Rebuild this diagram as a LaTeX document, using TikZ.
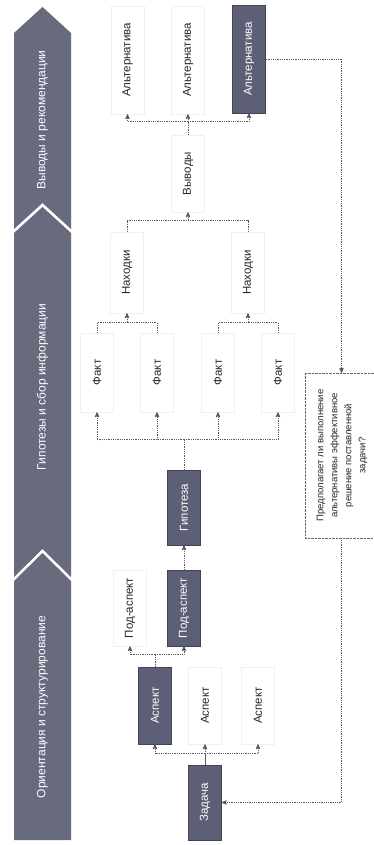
\documentclass[tikz,border=0pt]{standalone}
\usepackage{fontspec}
\setmainfont{Liberation Sans}
\usetikzlibrary{arrows}

\definecolor{slate}{RGB}{92,95,118}
\definecolor{band}{RGB}{104,106,126}

\begin{document}
\begin{tikzpicture}[x=1pt,y=-1pt,
	box/.style={draw=gray!12,fill=white,text=black!85,minimum width=33pt,minimum height=77pt,inner sep=0pt,font=\fontsize{11.5}{13}\selectfont},
	dark/.style={box,draw=slate!70!black,fill=slate,text=white},
	phase/.style={text=white,font=\fontsize{12}{14}\selectfont},
	line/.style={densely dotted,line width=0.8pt,draw=black!65},
	to/.style={line,->,>=stealth'}]

\clip (0,0) rectangle (374,845);
\fill[white] (0,0) rectangle (374,845);

% phases
\fill[band] (14,229) -- (14,33) -- (42.5,7) -- (71,33) -- (71,229) -- (42.5,203) -- cycle;
\fill[band] (14,577) -- (14,233) -- (42.5,207) -- (71,233) -- (71,577) -- (42.5,549) -- cycle;
\fill[band] (14,840) -- (14,581) -- (42.5,553) -- (71,581) -- (71,840) -- cycle;
\node[phase] (p1) at (42.5,120) {\rotatebox{90}{Выводы и рекомендации}};
\node[phase] (p2) at (42.5,387) {\rotatebox{90}{Гипотезы и сбор информации}};
\node[phase] (p3) at (42.5,707) {\rotatebox{90}{Ориентация и структурирование}};

% nodes
\node[dark,minimum height=75pt] (z) at (205,802.5) {\rotatebox{90}{Задача}};
\node[dark] (a1) at (155,705.5) {\rotatebox{90}{Аспект}};
\node[box] (a2) at (205,705.5) {\rotatebox{90}{Аспект}};
\node[box] (a3) at (258,705.5) {\rotatebox{90}{Аспект}};
\node[box,minimum height=76pt] (s1) at (130,608) {\rotatebox{90}{Под-аспект}};
\node[dark,minimum height=76pt] (s2) at (184,608) {\rotatebox{90}{Под-аспект}};
\node[dark,minimum height=75pt] (h) at (184,507.5) {\rotatebox{90}{Гипотеза}};
\node[box,minimum height=79pt] (f1) at (97,372.5) {\rotatebox{90}{Факт}};
\node[box,minimum height=79pt] (f2) at (157,372.5) {\rotatebox{90}{Факт}};
\node[box,minimum height=79pt] (f3) at (218,372.5) {\rotatebox{90}{Факт}};
\node[box,minimum height=79pt] (f4) at (278,372.5) {\rotatebox{90}{Факт}};
\node[box,minimum height=81pt] (n1) at (127,272.5) {\rotatebox{90}{Находки}};
\node[box,minimum height=81pt] (n2) at (248,272.5) {\rotatebox{90}{Находки}};
\node[box] (v) at (188,173.5) {\rotatebox{90}{Выводы}};
\node[box,minimum height=108pt] (c1) at (127.5,60) {\rotatebox{90}{Альтернатива}};
\node[box,minimum height=108pt] (c2) at (188,60) {\rotatebox{90}{Альтернатива}};
\node[dark,minimum height=108pt] (c3) at (249,59) {\rotatebox{90}{Альтернатива}};
\node[box,draw=black!60,densely dotted,minimum width=73pt,minimum height=165pt,font=\fontsize{9.5}{14}\selectfont] (q) at (341.5,455.5)
	{\rotatebox{90}{\begin{tabular}{@{}c@{}}Предполагает ли выполнение\\альтернативы эффективное\\решение поставленной\\задачи?\end{tabular}}};

% connectors
\draw[black!65,line width=0.8pt] (z.north) -- ++(0,-11) coordinate (j1);
\draw[to] (j1) -| (a1.south);
\draw[to] (j1) -- (a2.south);
\draw[to] (j1) -| (a3.south);

\draw[line] (a1.north) -- ++(0,-12) coordinate (j2);
\draw[to] (j2) -| (s1.south);
\draw[to] (j2) -| (s2.south);
\draw[to] (s2.north) -- (h.south);

\draw[line] (h.north) -- ++(0,-30) coordinate (j3);
\foreach \f in {f1,f2,f3,f4}
	\draw[to] (j3) -| (\f.south);

\draw[line] (f1.north) -- ++(0,-10) -| (f2.north);
\draw[line] (f3.north) -- ++(0,-10) -| (f4.north);
\draw[to] ([yshift=-10pt]n1.south) -- (n1.south);
\draw[to] ([yshift=-10pt]n2.south) -- (n2.south);

\draw[line] (n1.north) -- ++(0,-11) -| (n2.north);
\draw[to] ([yshift=-9pt]v.south) -- (v.south);

\draw[line] (v.north) -- ++(0,-13) coordinate (j5);
\draw[to] (j5) -| (c1.south);
\draw[to] (j5) -- (c2.south);
\draw[to] (j5) -| (c3.south);

\draw[to] (c3.east) -| (q.north);
\draw[to] (q.south) |- (z.east);

\end{tikzpicture}
\end{document}
